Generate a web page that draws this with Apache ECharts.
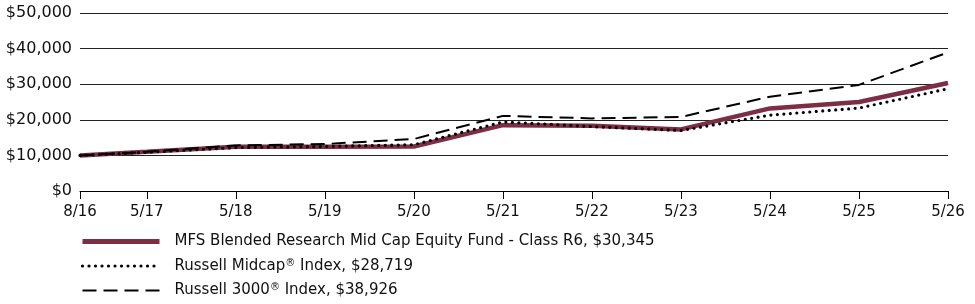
<!DOCTYPE html>
<html>
<head>
<meta charset="utf-8">
<script src="https://cdn.jsdelivr.net/npm/echarts@6/dist/echarts.min.js"></script>
<style>
  html, body { margin: 0; padding: 0; background: #fff; }
  #chart { width: 975px; height: 304px; }
</style>
</head>
<body>
<div id="chart"></div>
<script>
// months counted from 8/16
var months = [0, 9, 21, 33, 45, 57, 69, 81, 93, 105, 117];
var dateLabels = ['8/16', '5/17', '5/18', '5/19', '5/20', '5/21', '5/22', '5/23', '5/24', '5/25', '5/26'];

var fundName = 'MFS Blended Research Mid Cap Equity Fund - Class R6, $30,345';
var midcapName = 'Russell Midcap® Index, $28,719';
var r3000Name = 'Russell 3000® Index, $38,926';

var fundValues = [10000, 11000, 12400, 12400, 12500, 18500, 18300, 17300, 23200, 25000, 30345];
var midcapValues = [10000, 10900, 12200, 12500, 13000, 19400, 18100, 17000, 21300, 23300, 28719];
var r3000Values = [10000, 11000, 12800, 13200, 14600, 21100, 20400, 20800, 26500, 29800, 38926];

var fundColor = '#7d2d44';

function pairs(vals) {
  return vals.map(function (v, i) { return [months[i], v]; });
}

var chart = echarts.init(document.getElementById('chart'));
chart.setOption({
  animation: false,
  textStyle: { fontFamily: 'DejaVu Sans' },
  grid: { left: 80, right: 27, top: 13, bottom: 113 },
  legend: {
    orient: 'vertical',
    left: 75,
    top: 229,
    itemWidth: 77,
    itemHeight: 12,
    itemGap: 9,
    itemStyle: { opacity: 0 },
    textStyle: {
      fontSize: 15,
      color: '#111',
      padding: [0, 0, 0, 10],
      rich: { sup: { fontSize: 10, verticalAlign: 'top', padding: [0, 0, 6, 0], color: '#111' } }
    },
    formatter: function (name) { return name.replace('®', '{sup|®}'); },
    data: [
      { name: fundName, lineStyle: { width: 5, color: fundColor } },
      { name: midcapName, lineStyle: { width: 3.2, color: '#000', type: [0, 6.5], cap: 'round' } },
      { name: r3000Name, lineStyle: { width: 2, color: '#000', type: [14, 7] } }
    ]
  },
  xAxis: {
    type: 'value',
    min: 0,
    max: 117,
    axisLine: { show: true, lineStyle: { color: '#000', width: 1 } },
    axisTick: { show: true, length: 8, customValues: months, lineStyle: { color: '#000' } },
    axisLabel: {
      customValues: months,
      margin: 14,
      fontSize: 15,
      color: '#111',
      formatter: function (v) { return dateLabels[months.indexOf(v)]; }
    },
    splitLine: { show: false }
  },
  yAxis: {
    type: 'value',
    min: 0,
    max: 50000,
    interval: 10000,
    axisLine: { show: false },
    axisTick: { show: false },
    axisLabel: {
      fontSize: 16,
      color: '#111',
      margin: 8,
      formatter: function (v) { return '$' + v.toLocaleString('en-US'); }
    },
    splitLine: { show: true, lineStyle: { color: '#222', width: 1 } }
  },
  series: [
    {
      name: fundName,
      type: 'line',
      data: pairs(fundValues),
      symbol: 'none',
      z: 3,
      lineStyle: { color: fundColor, width: 4.5 },
      itemStyle: { color: fundColor }
    },
    {
      name: midcapName,
      type: 'line',
      data: pairs(midcapValues),
      symbol: 'none',
      z: 4,
      lineStyle: { color: '#000', width: 3.2, type: [0, 6.5], cap: 'round' },
      itemStyle: { color: '#000' }
    },
    {
      name: r3000Name,
      type: 'line',
      data: pairs(r3000Values),
      symbol: 'none',
      z: 5,
      lineStyle: { color: '#000', width: 2, type: [14, 7] },
      itemStyle: { color: '#000' }
    }
  ]
});
</script>
</body>
</html>
